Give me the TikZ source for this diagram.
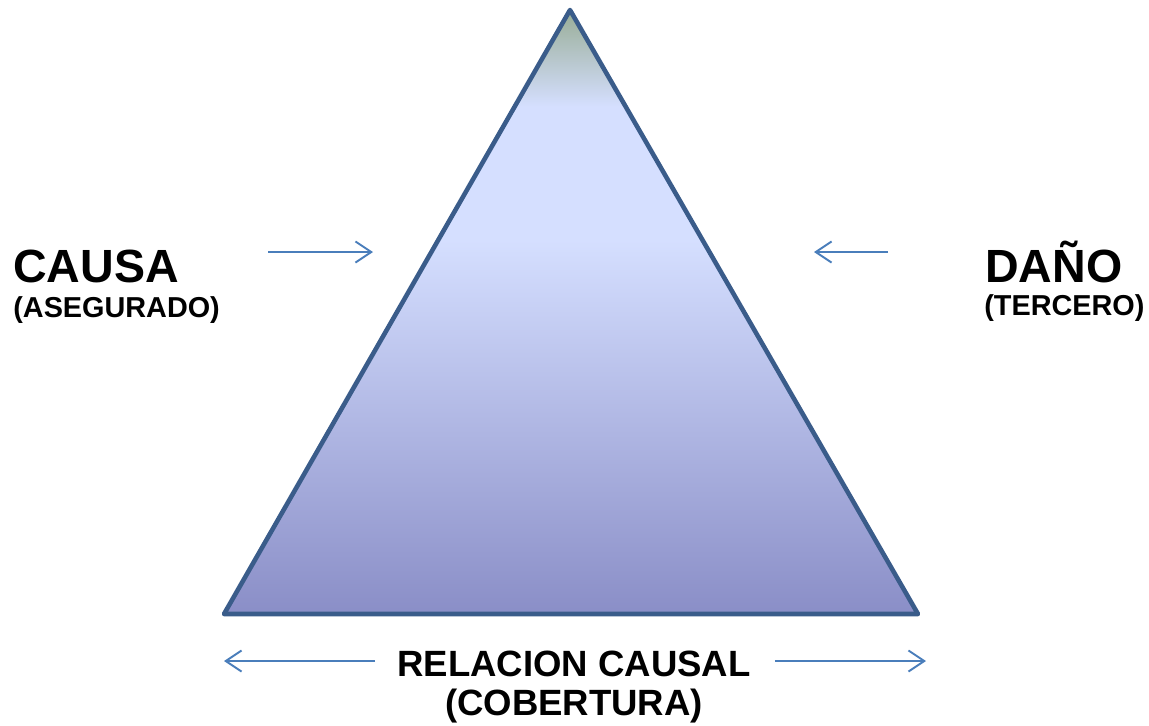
\documentclass[tikz,border=0pt]{standalone}
\usepackage{fontspec}
\setmainfont{Liberation Sans}
\usetikzlibrary{arrows.meta}

\definecolor{rimblue}{HTML}{3A5C8A}
\definecolor{arrowblue}{HTML}{4A7EBB}
\definecolor{topgreen}{HTML}{98AD96}
\definecolor{paleblue}{HTML}{D5DFFF}
\definecolor{deepblue}{HTML}{8A8EC7}
\pgfdeclareverticalshading{trishade}{100bp}{color(0bp)=(deepblue); color(25bp)=(deepblue);
  color(56bp)=(paleblue); color(67bp)=(paleblue); color(75bp)=(topgreen); color(100bp)=(topgreen)}

\tikzset{
  bigword/.style={inner sep=0pt,font=\bfseries\fontsize{26.5}{30}\selectfont},
  smallword/.style={inner sep=0pt,font=\bfseries\fontsize{16.4}{19}\selectfont},
  midword/.style={inner sep=0pt,font=\bfseries\fontsize{20.8}{24}\selectfont},
  pointer/.style={draw=arrowblue,line width=1.1pt,-{Straight Barb[length=9pt,width=12pt,line width=1.1pt]}}
}

\begin{document}
\begin{tikzpicture}[x=0.02cm,y=-0.02cm]
\useasboundingbox (0,0) rectangle (1149,725);

\draw[rimblue,line width=2.6pt,line join=round,shading=trishade]
  (570,10) -- (918,614) -- (224,614) -- cycle;

\node[bigword,anchor=base west] (causa) at (13,282) {CAUSA};
\node[smallword,anchor=base west] (asegurado) at (13,317) {(ASEGURADO)};
\node[bigword,anchor=base west] (dano) at (985,282) {DAÑO};
\node[smallword,anchor=base west] (tercero) at (984,315) {(TERCERO)};
\node[midword,anchor=base] (relacion) at (574,676) {RELACION CAUSAL};
\node[midword,anchor=base] (cobertura) at (574,715) {(COBERTURA)};

\coordinate (causa-tip) at (373,252);
\coordinate (dano-tip) at (814,252);
\coordinate (left-tip) at (224,661);
\coordinate (right-tip) at (926,661);

\draw[pointer] (268,252) -- (causa-tip);
\draw[pointer] (888,252) -- (dano-tip);
\draw[pointer] (relacion.west |- left-tip) ++(-22,0) -- (left-tip);
\draw[pointer] (relacion.east |- right-tip) ++(24,0) -- (right-tip);
\end{tikzpicture}
\end{document}
